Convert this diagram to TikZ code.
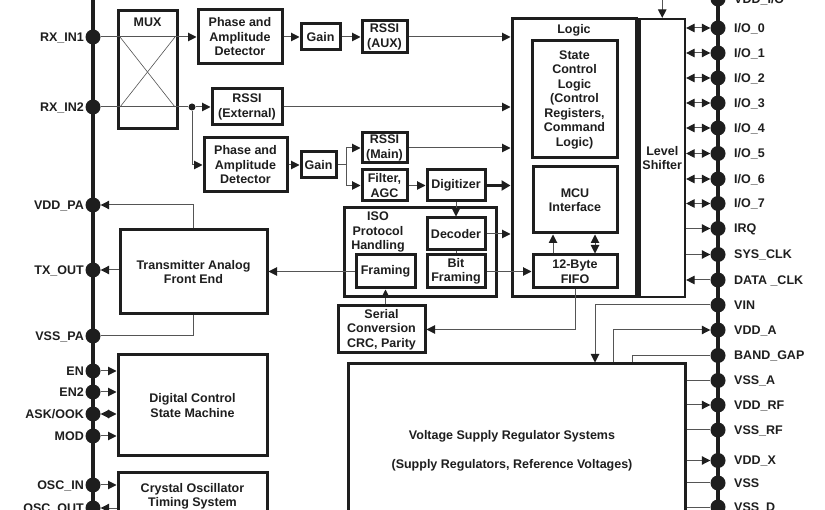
\documentclass[tikz,border=0pt]{standalone}
\usepackage{fontspec}
\setmainfont{Liberation Sans}
\usetikzlibrary{arrows.meta}
\definecolor{ink}{HTML}{1E1E1E}
\definecolor{wirec}{HTML}{555555}
\newcommand\mkbox[6]{\node[box, minimum width={(#4-#2)*1pt}, minimum height={(#5-#3)*1pt}] (#1) at ({(#2+#4)/2},{(#3+#5)/2}) {#6};}
\newcommand\lpin[3]{\node[terminal] (#1) at (93,#2) {}; \node[plbl, anchor=base east] (#1l) at (84,#2+4.5) {#3};}
\newcommand\rpin[3]{\node[terminal] (#1) at (718,#2) {}; \node[plbl, anchor=base west] (#1l) at (734,#2+4.5) {#3};}
\tikzset{
  box/.style={draw=ink, line width=3pt, fill=white, inner sep=0pt, align=center, text=ink, font=\bfseries\fontsize{12.5}{14.5}\selectfont},
  txt/.style={inner sep=0pt, align=center, text=ink, font=\bfseries\fontsize{12.5}{14.5}\selectfont},
  plbl/.style={inner sep=0pt, text=ink, font=\bfseries\fontsize{12.5}{14.5}\selectfont},
  terminal/.style={circle, fill=ink, minimum size=15pt, inner sep=0pt},
  junction/.style={circle, fill=ink, minimum size=7pt, inner sep=0pt},
  conn/.style={draw=wirec, line width=1pt},
  arr/.style={conn, -{Triangle[length=8.5pt,width=8.5pt,color=ink]}},
  darr/.style={conn, {Triangle[length=8.5pt,width=8.5pt,color=ink]}-{Triangle[length=8.5pt,width=8.5pt,color=ink]}},
  thickarr/.style={draw=ink, line width=3pt, -{Triangle[length=9pt,width=10pt,color=ink]}},
  busline/.style={draw=ink, line width=3.5pt},
}
\begin{document}
\begin{tikzpicture}[x=1pt,y=-1pt]
\useasboundingbox (0,0) rectangle (825,510);
\fill[white] (0,0) rectangle (825,510);
% buses
\coordinate (lbt) at (93,-5); \coordinate (lbb) at (93,515);
\coordinate (rbt) at (718,-5); \coordinate (rbb) at (718,515);
\draw[busline] (lbt) -- (lbb);
\draw[busline] (rbt) -- (rbb);
% left pins
\lpin{rx1}{37}{RX\_IN1}
\lpin{rx2}{107}{RX\_IN2}
\lpin{vddpa}{205}{VDD\_PA}
\lpin{txout}{270}{TX\_OUT}
\lpin{vsspa}{336}{VSS\_PA}
\lpin{en}{371}{EN}
\lpin{entwo}{392}{EN2}
\lpin{askook}{414}{ASK/OOK}
\lpin{mod}{436}{MOD}
\lpin{oscin}{485}{OSC\_IN}
\lpin{oscout}{508}{OSC\_OUT}
% right pins
\rpin{vddio}{-1}{VDD\_I/O}
\rpin{ioa}{28}{I/O\_0}
\rpin{iob}{53}{I/O\_1}
\rpin{ioc}{78}{I/O\_2}
\rpin{iod}{103}{I/O\_3}
\rpin{ioe}{128}{I/O\_4}
\rpin{iof}{153.5}{I/O\_5}
\rpin{iog}{179}{I/O\_6}
\rpin{ioh}{203.5}{I/O\_7}
\rpin{irq}{228.5}{IRQ}
\rpin{sysclk}{254.5}{SYS\_CLK}
\rpin{dclk}{280}{DATA \_CLK}
\rpin{vin}{305}{VIN}
\rpin{vdda}{330}{VDD\_A}
\rpin{bgap}{355.5}{BAND\_GAP}
\rpin{vssa}{380.5}{VSS\_A}
\rpin{vddrf}{405}{VDD\_RF}
\rpin{vssrf}{430}{VSS\_RF}
\rpin{vddx}{460.5}{VDD\_X}
\rpin{vss}{483}{VSS}
\rpin{vssd}{507}{VSS\_D}
% boxes
\mkbox{mux}{118}{11}{177}{129}{}
\node[txt] (muxl) at (147.5,22) {MUX};
\mkbox{pad1}{198}{10}{282}{64}{Phase and\\Amplitude\\Detector}
\mkbox{gain1}{301}{24}{340}{50}{Gain}
\mkbox{rssiaux}{362}{21}{407}{53}{RSSI\\(AUX)}
\mkbox{rssiext}{212}{89}{282}{125}{RSSI\\(External)}
\mkbox{pad2}{204}{138}{287}{192}{Phase and\\Amplitude\\Detector}
\mkbox{gain2}{301}{152}{336}{178}{Gain}
\mkbox{rssimain}{362}{133}{407}{163}{RSSI\\(Main)}
\mkbox{filter}{362}{170}{407}{201}{Filter,\\AGC}
\mkbox{digitizer}{427}{170}{485}{201}{Digitizer}
\mkbox{iso}{344}{208}{496}{297}{}
\node[txt, anchor=north] (isol) at (378,212) {ISO\\Protocol\\Handling};
\mkbox{decoder}{427}{218}{485}{250}{Decoder}
\mkbox{bitfr}{427}{255}{485}{288}{Bit\\Framing}
\mkbox{framing}{356}{255}{415}{288}{Framing}
\mkbox{serial}{338}{306}{425}{353}{Serial\\Conversion\\CRC, Parity}
\mkbox{logic}{512}{19}{636.5}{297}{}
\node[txt] (logicl) at (574,30) {Logic};
\node[box, line width=2.2pt, minimum width=45.5pt, minimum height=278pt] (ls) at (662.25,158) {Level\\Shifter};
\mkbox{scl}{532}{41}{617}{158}{State\\Control\\Logic\\(Control\\Registers,\\Command\\Logic)}
\mkbox{mcu}{533}{167}{617}{233}{MCU\\Interface}
\mkbox{fifo}{533}{255}{617}{288}{12-Byte\\FIFO}
\mkbox{txfe}{120}{230}{267}{314}{Transmitter Analog\\Front End}
\mkbox{dcsm}{118}{355}{267}{456}{Digital Control\\State Machine}
\mkbox{xtal}{118}{473}{267}{520}{Crystal Oscillator\\Timing System}
\mkbox{vreg}{348}{364}{685}{540}{}
\node[txt] (vtone) at (512,436) {Voltage Supply Regulator Systems};
\node[txt] (vttwo) at (512,465) {(Supply Regulators, Reference Voltages)};
% mux cross
\coordinate (mxa) at (120,37); \coordinate (mxb) at (175,107);
\coordinate (mxc) at (120,107); \coordinate (mxd) at (175,37);
\draw[conn, line width=0.6pt] (mxa) -- (mxb);
\draw[conn, line width=0.6pt] (mxc) -- (mxd);
% receive path
\draw[arr] (rx1) -- (rx1 -| pad1.west);
\node[junction] (jn) at (192,107) {};
\draw[conn] (rx2) -- (jn);
\draw[arr] (jn) -- (jn -| rssiext.west);
\draw[arr] (jn) |- (pad2.west);
\draw[arr] (pad1.east) -- (gain1.west);
\draw[arr] (gain1.east) -- (rssiaux.west);
\draw[arr] (rssiaux.east) -- (rssiaux.east -| logic.west);
\draw[arr] (rssiext.east) -- (rssiext.east -| logic.west);
\draw[arr] (pad2.east) -- (gain2.west);
\coordinate (br) at (346,165);
\draw[conn] (gain2.east) -- (br);
\draw[arr] (br) |- (rssimain.west);
\draw[arr] (br) |- (filter.west);
\draw[arr] (rssimain.east) -- (rssimain.east -| logic.west);
\draw[arr] (filter.east) -- (digitizer.west);
\draw[thickarr] (digitizer.east) -- (digitizer.east -| logic.west);
\draw[arr] (digitizer.south) -- (decoder.north);
\draw[arr] (decoder.east) -- (decoder.east -| logic.west);
\draw[conn] (decoder.south) -- (bitfr.north);
\draw[arr] (bitfr.east) -- (fifo.west);
\draw[arr] (framing.west) -- (framing.west -| txfe.east);
\draw[arr] (fifo.south) |- (serial.east);
\draw[arr] (framing.south |- serial.north) -- (framing.south);
\draw[arr] ([xshift=-22pt]fifo.north) -- ([xshift=-22pt]mcu.south);
\draw[darr] ([xshift=20pt]fifo.north) -- ([xshift=20pt]mcu.south);
% transmitter
\draw[arr] (txfe.north) |- (vddpa);
\draw[arr] (txfe.west |- txout) -- (txout);
\draw[conn] (txfe.south) |- (vsspa);
% digital control and oscillator
\draw[arr] (en) -- (en -| dcsm.west);
\draw[arr] (entwo) -- (entwo -| dcsm.west);
\draw[darr] (askook) -- (askook -| dcsm.west);
\draw[arr] (mod) -- (mod -| dcsm.west);
\draw[arr] (oscin) -- (oscin -| xtal.west);
\draw[arr] (oscout -| xtal.west) -- (oscout);
% level shifter pins
\draw[arr] (vddio) -| (ls.north);
\draw[darr] (ioa -| ls.east) -- (ioa);
\draw[darr] (iob -| ls.east) -- (iob);
\draw[darr] (ioc -| ls.east) -- (ioc);
\draw[darr] (iod -| ls.east) -- (iod);
\draw[darr] (ioe -| ls.east) -- (ioe);
\draw[darr] (iof -| ls.east) -- (iof);
\draw[darr] (iog -| ls.east) -- (iog);
\draw[darr] (ioh -| ls.east) -- (ioh);
\draw[arr] (irq -| ls.east) -- (irq);
\draw[arr] (sysclk -| ls.east) -- (sysclk);
\draw[arr] (dclk) -- (dclk -| ls.east);
% supply pins
\draw[arr] (vin) -| ([xshift=78.5pt]vreg.north);
\draw[arr] ([xshift=96.5pt]vreg.north) |- (vdda);
\draw[conn] ([xshift=115.5pt]vreg.north) |- (bgap);
\draw[conn] (vssa -| vreg.east) -- (vssa);
\draw[arr] (vddrf -| vreg.east) -- (vddrf);
\draw[conn] (vssrf -| vreg.east) -- (vssrf);
\draw[arr] (vddx -| vreg.east) -- (vddx);
\draw[conn] (vss -| vreg.east) -- (vss);
\draw[conn] (vssd -| vreg.east) -- (vssd);
\end{tikzpicture}
\end{document}
